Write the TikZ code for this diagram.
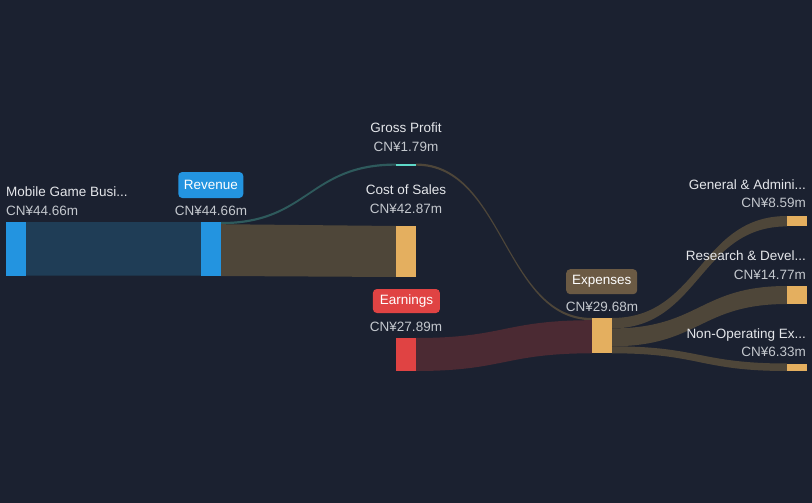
\documentclass[tikz,border=0pt]{standalone}
\usepackage{fontspec}
\setmainfont{Liberation Sans}
\definecolor{bg}{HTML}{1B2130}
\definecolor{lbl}{HTML}{E4E6EA}
\definecolor{val}{HTML}{C4C8CE}
\definecolor{cblue}{HTML}{2394E0}
\definecolor{cbluelink}{HTML}{1F3D56}
\definecolor{cgold}{HTML}{E4AF5F}
\definecolor{cbrownlink}{HTML}{4E4639}
\definecolor{cred}{HTML}{E04343}
\definecolor{credlink}{HTML}{4B2A33}
\definecolor{cteal}{HTML}{5ED8C8}
\definecolor{ctealink}{HTML}{2E5A5C}
\definecolor{cpill}{HTML}{6B5A44}
\newcommand\sband[7]{%
  \pgfmathsetmacro\xm{(#1+#4)/2}%
  \fill[#7] (#1,#2) .. controls (\xm,#2) and (\xm,#5) .. (#4,#5) -- (#4,#6) .. controls (\xm,#6) and (\xm,#3) .. (#1,#3) -- cycle;}
\begin{document}
\begin{tikzpicture}[x=1pt,y=-1pt,
  bar/.style={draw=none,inner sep=0pt,outer sep=0pt,minimum width=20pt},
  lab/.style={text=lbl,font=\fontsize{13.5}{16}\selectfont,inner sep=0pt},
  vlab/.style={text=val,font=\fontsize{13.5}{16}\selectfont,inner sep=0pt},
  pill/.style={rounded corners=4pt,text=white,font=\fontsize{13.5}{16}\selectfont,inner sep=0pt}]
\fill[bg] (0,0) rectangle (812,503);
\useasboundingbox (0,0) rectangle (812,503);
% bands
\sband{26}{222}{275.5}{201}{222}{275.5}{cbluelink}
\sband{221}{222}{224.2}{396}{163.5}{165.7}{ctealink}
\sband{221}{224.2}{276}{396}{226}{277}{cbrownlink}
\sband{416}{163.5}{165.7}{592}{318}{320.2}{cbrownlink}
\sband{416}{338}{371}{592}{320.2}{353.3}{credlink}
\sband{612}{318}{328.4}{787}{216}{226.4}{cbrownlink}
\sband{612}{328.4}{346.3}{787}{286}{304}{cbrownlink}
\sband{612}{346.3}{353.3}{787}{363.5}{371}{cbrownlink}
% bars
\node[bar,fill=cblue,minimum height=53.5pt] (mob) at (16,248.75) {};
\node[bar,fill=cblue,minimum height=54pt] (rev) at (211,249) {};
\node[bar,fill=cteal,minimum height=2.2pt] (gp) at (406,164.6) {};
\node[bar,fill=cgold,minimum height=51pt] (cos) at (406,251.5) {};
\node[bar,fill=cred,minimum height=33pt] (earn) at (406,354.5) {};
\node[bar,fill=cgold,minimum height=35.3pt] (exp) at (602,335.65) {};
\node[bar,fill=cgold,minimum height=10.4pt] (ga) at (797,221.2) {};
\node[bar,fill=cgold,minimum height=18pt] (rd) at (797,295) {};
\node[bar,fill=cgold,minimum height=7.5pt] (nop) at (797,367.25) {};
% labels
\node[lab,anchor=base west] (tmob) at (6,196.5) {Mobile Game Busi...};
\node[vlab,anchor=base west] (vmob) at (6,215) {CN¥44.66m};
\node[pill,fill=cblue,minimum width=65pt,minimum height=26pt] (trev) at (210.8,185) {Revenue};
\node[vlab,anchor=base] (vrev) at (211,215) {CN¥44.66m};
\node[lab,anchor=base] (tgp) at (406,132.3) {Gross Profit};
\node[vlab,anchor=base] (vgp) at (406,151) {CN¥1.79m};
\node[lab,anchor=base] (tcos) at (406,194.3) {Cost of Sales};
\node[vlab,anchor=base] (vcos) at (406,213.3) {CN¥42.87m};
\node[pill,fill=cred,minimum width=67pt,minimum height=24pt] (tearn) at (406.4,301) {Earnings};
\node[vlab,anchor=base] (vearn) at (406,331) {CN¥27.89m};
\node[pill,fill=cpill,minimum width=71pt,minimum height=25pt] (texp) at (601.7,281.7) {Expenses};
\node[vlab,anchor=base] (vexp) at (602,311) {CN¥29.68m};
\node[lab,anchor=base east] (tga) at (806,189.3) {General \& Admini...};
\node[vlab,anchor=base east] (vga) at (806,207.7) {CN¥8.59m};
\node[lab,anchor=base east] (trd) at (806,260) {Research \& Devel...};
\node[vlab,anchor=base east] (vrd) at (806,279) {CN¥14.77m};
\node[lab,anchor=base east] (tnop) at (806,338.3) {Non-Operating Ex...};
\node[vlab,anchor=base east] (vnop) at (806,356.7) {CN¥6.33m};
\end{tikzpicture}
\end{document}
